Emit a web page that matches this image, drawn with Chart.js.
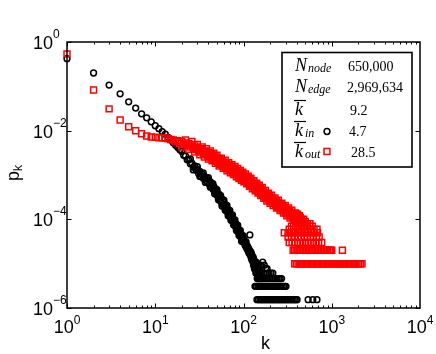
<!DOCTYPE html>
<html>
<head>
<meta charset="utf-8">
<script src="https://cdn.jsdelivr.net/npm/chart.js@4.4.0/dist/chart.umd.min.js"></script>
<style>
  html, body { margin: 0; padding: 0; background: #fff; }
  canvas { display: block; }
</style>
</head>
<body>
<canvas id="chart" width="436" height="354"></canvas>
<script>
// in-degree distribution (black circles)
const inK = [1,2,3,4,5,6,7,8,9,10,11,12,13,14,15,16,17,18,19,20,
  21,22,23,24,25,26,27,28,29,30,31,32,33,34,35,36,37,38,39,40,
  41,42,43,44,45,46,47,48,49,50,51,52,53,54,55,56,57,58,59,60,
  61,62,63,64,65,66,67,68,69,70,72,73,74,75,76,77,78,79,80,81,
  82,84,85,86,88,89,90,92,93,94,96,97,98,100];
const inP = [0.42,0.20,0.107,0.0676,0.0447,0.0324,0.0240,0.0195,0.0158,0.0129,
  0.0111,0.00955,0.00832,0.00708,0.00617,0.00537,0.00468,0.00417,0.00372,3.4e-3,
  2.8e-3,2.7e-3,2.2e-3,2.2e-3,1.8e-3,1.85e-3,1.5e-3,1.6e-3,1.3e-3,1.35e-3,
  1.08e-3,1.2e-3,9.5e-4,1.05e-3,8.5e-4,9.4e-4,7.6e-4,8.6e-4,6.9e-4,7.8e-4,
  6.2e-4,7.1e-4,5.5e-4,6.2e-4,4.8e-4,5.5e-4,4.3e-4,4.9e-4,3.7e-4,4.2e-4,
  3.3e-4,3.8e-4,2.9e-4,3.3e-4,2.55e-4,3.0e-4,2.3e-4,2.65e-4,2.1e-4,2.4e-4,
  1.9e-4,2.15e-4,1.7e-4,1.9e-4,1.52e-4,1.72e-4,1.36e-4,1.55e-4,1.24e-4,1.4e-4,
  1.08e-4,1.22e-4,9.8e-5,1.1e-4,9.0e-5,1.0e-4,8.0e-5,9.0e-5,7.3e-5,8.3e-5,
  6.6e-5,7.3e-5,5.8e-5,6.6e-5,5.0e-5,5.8e-5,4.6e-5,5.1e-5,4.0e-5,4.6e-5,
  3.5e-5,4.1e-5,3.2e-5,3.6e-5];
// outer edges of the black band
const inSpreadK = [25,27,30,32,35,37,40,42,45,47,50,52,55,57,60,62,65,67,70,72,
  75,77,80,83,86,89,92,95,99];
const inSpreadP = [2.3e-3,1.3e-3,1.55e-3,9.2e-4,1.12e-3,6.8e-4,8.7e-4,5.3e-4,6.4e-4,3.8e-4,
  4.7e-4,2.75e-4,3.45e-4,2.0e-4,2.7e-4,1.6e-4,2.05e-4,1.2e-4,1.6e-4,9.5e-5,
  1.26e-4,7.5e-5,9.7e-5,5.6e-5,7.4e-5,4.3e-5,5.6e-5,3.2e-5,4.3e-5];
const inTailK = [101,102,103,104,105,106,107,108,109,110,111,112,113,114,115,116,117,118,119,120,
  121,122,123,124,125,126,127,128,129,130,131,132,133,134,135,136,137,138,139,140,
  141,142,143,144,145,146,147,148,150,151,152,154,155,157,158,160,162,165,168,171,
  172,175,178,182,185,186,190,195,200,205,210,215,220,230,240,250,260,270];
const inTailP = [3.38e-5,2.92e-5,3.23e-5,2.62e-5,2.92e-5,2.46e-5,3.08e-5,2.31e-5,2.62e-5,2.15e-5,
  2.46e-5,2.0e-5,2.31e-5,1.85e-5,2.15e-5,1.69e-5,2.0e-5,4.46e-5,1.85e-5,1.54e-5,
  1.85e-5,1.38e-5,1.69e-5,1.23e-5,1.54e-5,1.23e-5,1.38e-5,1.08e-5,1.38e-5,9.23e-6,
  1.23e-5,1.08e-5,7.69e-6,1.08e-5,9.23e-6,7.69e-6,9.23e-6,6.15e-6,1.08e-5,7.69e-6,
  6.15e-6,9.23e-6,4.62e-6,7.69e-6,6.15e-6,4.62e-6,7.69e-6,6.15e-6,4.62e-6,7.69e-6,
  6.15e-6,4.62e-6,6.15e-6,9.23e-6,4.62e-6,6.15e-6,4.62e-6,1.08e-5,4.62e-6,6.15e-6,
  9.23e-6,4.62e-6,7.69e-6,4.62e-6,7.69e-6,6.15e-6,4.62e-6,6.15e-6,4.62e-6,6.15e-6,
  4.62e-6,6.15e-6,4.62e-6,4.62e-6,4.62e-6,4.62e-6,4.62e-6,4.62e-6];
// lowest levels: one row of points per level
const inRowLevels = [3.08e-6, 1.54e-6];
const inRowK = [
  [135,140,146,152,158,164,171,178,185,192,200,208,216,225,234,243,253,263,274,285,296,303],
  [142,148,154,160,166,173,180,187,195,203,211,219,228,237,247,257,267,278,289,300,312,325,338,352,366,380,395,405,540,610,680]
];

// out-degree distribution (red squares)
const outK = [1,2,3,4,5,6,7,8,9,10,11,12,13,14,15,16,17,18,19,20,
  21,22,23,24,25,26,27,28,29,30,31,32,33,34,35,36,37,38,39,40,
  41,42,43,44,45,46,47,48,49,50,51,52,53,54,55,56,57,58,59,60,
  61,62,63,64,65,66,67,68,69,70,72,73,75,76,78,79,81,82,84,85,
  87,88,90,91,93,94,96,97,99,100,102,104,106,108,110,112,114,116,118,120,
  122,125,127,130,132,135,137,140,142,145,148,150,153,156,159,162,165,168,172,175,
  179,182,186,190,194,198,202,206,210,215,220,225,230,235,240,245,250,256,262,268,
  274,280,286,293,300,306,313,320,328,335,343,350,358,366,375,383];
const outP = [0.54,0.083,0.031,0.0174,0.0123,0.0100,0.0085,0.0076,0.0072,0.0071,
  0.0069,0.0069,0.0068,0.0066,0.0063,6.2e-3,5.6e-3,5.9e-3,5.2e-3,5.7e-3,
  4.9e-3,5.3e-3,4.6e-3,5.1e-3,4.3e-3,4.8e-3,4.0e-3,4.5e-3,3.75e-3,4.2e-3,
  3.5e-3,3.9e-3,3.3e-3,3.7e-3,3.05e-3,3.5e-3,2.9e-3,3.35e-3,2.75e-3,3.2e-3,
  2.6e-3,3.05e-3,2.45e-3,2.9e-3,2.3e-3,2.7e-3,2.2e-3,2.55e-3,2.05e-3,2.45e-3,
  1.95e-3,2.35e-3,1.85e-3,2.2e-3,1.75e-3,2.1e-3,1.68e-3,2.02e-3,1.62e-3,1.95e-3,
  1.56e-3,1.88e-3,1.5e-3,1.8e-3,1.42e-3,1.72e-3,1.38e-3,1.66e-3,1.33e-3,1.6e-3,
  1.28e-3,1.52e-3,1.2e-3,1.44e-3,1.13e-3,1.36e-3,1.08e-3,1.3e-3,1.02e-3,1.24e-3,
  9.7e-4,1.18e-3,9.3e-4,1.13e-3,8.9e-4,1.08e-3,8.5e-4,1.03e-3,8.1e-4,9.8e-4,
  7.8e-4,9.3e-4,7.3e-4,8.8e-4,7.0e-4,8.4e-4,6.6e-4,8.0e-4,6.2e-4,7.5e-4,
  5.9e-4,7.0e-4,5.5e-4,6.5e-4,5.2e-4,6.2e-4,4.9e-4,5.8e-4,4.6e-4,5.4e-4,
  4.3e-4,5.2e-4,4.05e-4,4.9e-4,3.8e-4,4.6e-4,3.6e-4,4.3e-4,3.35e-4,4.0e-4,
  3.15e-4,3.8e-4,2.95e-4,3.5e-4,2.75e-4,3.3e-4,2.6e-4,3.1e-4,2.45e-4,2.9e-4,
  2.3e-4,2.7e-4,2.1e-4,2.55e-4,1.98e-4,2.4e-4,1.88e-4,2.25e-4,1.75e-4,2.1e-4,
  1.65e-4,1.98e-4,1.55e-4,1.84e-4,1.43e-4,1.72e-4,1.35e-4,1.62e-4,1.27e-4,1.5e-4,
  1.2e-4,1.42e-4,1.13e-4,1.34e-4,1.06e-4,1.3e-4];
// outer edges of the red band
const outSpreadK = [20,22,24,26,28,30,32,34,36,38,40,42,44,46,48,50,53,56,59,62,
  65,68,71,74,77,80,83,86,89,92,95,98,101,105,109,113,117,121,126,131,
  136,141,146,151,157,163,170,177,184,192,200,208,217,227,237,248,260,272,284,297,
  310,324,338,353,370,390,410,430];
const outSpreadP = [4.3e-3,6.2e-3,3.8e-3,5.7e-3,3.3e-3,4.9e-3,2.85e-3,4.3e-3,2.55e-3,3.9e-3,
  2.3e-3,3.5e-3,2.08e-3,3.1e-3,1.85e-3,2.8e-3,1.6e-3,2.4e-3,1.42e-3,2.15e-3,
  1.25e-3,1.9e-3,1.12e-3,1.7e-3,1.02e-3,1.55e-3,9.1e-4,1.4e-3,8.3e-4,1.26e-3,
  7.6e-4,1.15e-3,7.0e-4,1.05e-3,6.3e-4,9.4e-4,5.6e-4,8.5e-4,4.9e-4,7.4e-4,
  4.4e-4,6.5e-4,3.9e-4,5.9e-4,3.45e-4,5.2e-4,3.0e-4,4.5e-4,2.6e-4,3.9e-4,
  2.3e-4,3.5e-4,2.05e-4,3.05e-4,1.8e-4,2.7e-4,1.58e-4,2.3e-4,1.38e-4,2.05e-4,
  1.2e-4,1.8e-4,1.07e-4,1.6e-4,9.5e-5,1.4e-4,1.3e-4,1.2e-4];
const outRowLevels = [1.2e-4,1.1e-4,1.0e-4,9e-5,8e-5,7e-5,6e-5,5e-5,4e-5,3e-5,2e-5,1e-5];
const outRowK = [
  [392,420],
  [400,415,440],
  [380,405,430,455,480],
  [390,420,445,470,500],
  [370,410,440,465,495,530,565],
  [350,390,425,460,490,520,560,600],
  [330,370,410,450,490,530,580,630,680],
  [290,320,350,385,420,455,495,535,580,630,690],
  [320,350,380,415,450,490,530,575,620,670,720],
  [330,355,380,410,440,470,505,540,580,620,665,710,770],
  [365,380,395,411,427,444,462,480,500,520,541,562,585,608,632,658,684,711,740,770,800,832,865,900,936,970,1000,1320],
  [380,397,415,434,453,474,495,517,540,565,590,617,645,674,704,736,769,803,840,877,917,958,1000,1046,1093,1142,1193,1247,1303,1362,1423,1487,1554,1624,1697,1773,1853,1936,2023,2110,2200]
];

// axis decades
const xTickExp = [0, 1, 2, 3, 4];
const yTickExp = [0, -2, -4, -6];

// statistics box
const statSym = ['N', 'N', 'k', 'k', 'k'];
const statSub = ['node', 'edge', '', 'in', 'out'];
const statBar = [false, false, true, true, true];
const statVal = ['650,000', '2,969,634', '9.2', '4.7', '28.5'];

function pts(ks, ps) { return ks.map((k, i) => ({ x: k, y: ps[i] })); }
function rows(levels, lists) {
  const out = [];
  lists.forEach((ks, j) => ks.forEach(k => out.push({ x: k, y: levels[j] })));
  return out;
}

const SANS = '"Liberation Sans", Arial, sans-serif';
const SERIF = '"Liberation Serif", "Times New Roman", serif';

const deco = {
  id: 'deco',
  afterDraw(chart) {
    const ctx = chart.ctx, a = chart.chartArea;
    const xs = chart.scales.x, ys = chart.scales.y;
    ctx.save();
    ctx.strokeStyle = '#000';
    ctx.fillStyle = '#000';

    // box
    ctx.lineWidth = 1.5;
    ctx.strokeRect(a.left, a.top, a.right - a.left, a.bottom - a.top);

    // ticks, inside the box
    ctx.lineWidth = 1;
    ctx.beginPath();
    for (let e = 0; e < 4; e++) {
      for (let m = 1; m < 10; m++) {
        const px = Math.round(xs.getPixelForValue(m * Math.pow(10, e))) + 0.5;
        const len = m === 1 ? 4.5 : 2.5;
        ctx.moveTo(px, a.bottom); ctx.lineTo(px, a.bottom - len);
        ctx.moveTo(px, a.top); ctx.lineTo(px, a.top + len);
      }
    }
    yTickExp.forEach(e => {
      const py = Math.round(ys.getPixelForValue(Math.pow(10, e))) + 0.5;
      ctx.moveTo(a.left, py); ctx.lineTo(a.left + 4.5, py);
      ctx.moveTo(a.right, py); ctx.lineTo(a.right - 4.5, py);
    });
    ctx.stroke();

    // tick labels 10^e
    const expStr = e => (e < 0 ? '\u2212' + (-e) : String(e));
    ctx.textBaseline = 'alphabetic';
    xTickExp.forEach(e => {
      const px = xs.getPixelForValue(Math.pow(10, e));
      ctx.font = '18px ' + SANS;
      const w1 = ctx.measureText('10').width;
      ctx.font = '12px ' + SANS;
      const w2 = ctx.measureText(expStr(e)).width;
      const left = px - (w1 + w2) / 2;
      ctx.textAlign = 'left';
      ctx.font = '18px ' + SANS;
      ctx.fillText('10', left, a.bottom + 25);
      ctx.font = '12px ' + SANS;
      ctx.fillText(expStr(e), left + w1, a.bottom + 16);
    });
    yTickExp.forEach(e => {
      const py = ys.getPixelForValue(Math.pow(10, e));
      ctx.textAlign = 'right';
      ctx.font = '18px ' + SANS;
      ctx.fillText('10', 53, py + 7);
      ctx.textAlign = 'left';
      ctx.font = '12px ' + SANS;
      ctx.fillText(expStr(e), 53, py - 4);
    });

    // axis titles
    ctx.textAlign = 'center';
    ctx.font = '18px ' + SANS;
    ctx.fillText('k', (a.left + a.right) / 2 + 22, 349);
    ctx.save();
    ctx.translate(19, 173);
    ctx.rotate(-Math.PI / 2);
    ctx.font = '18px ' + SANS;
    const wp = ctx.measureText('p').width;
    ctx.font = '12px ' + SANS;
    const wk = ctx.measureText('k').width;
    ctx.textAlign = 'left';
    ctx.font = '18px ' + SANS;
    ctx.fillText('p', -(wp + wk) / 2, 0);
    ctx.font = '12px ' + SANS;
    ctx.fillText('k', -(wp + wk) / 2 + wp, 3);
    ctx.restore();

    // statistics box
    ctx.fillStyle = '#fff';
    ctx.fillRect(282, 52.5, 130, 114.5);
    ctx.lineWidth = 1.6;
    ctx.strokeRect(282, 52.5, 130, 114.5);
    ctx.fillStyle = '#000';
    const rowY = [71, 92, 115, 136, 157];
    const valX = [348, 347, 350, 349, 351];
    ctx.textAlign = 'left';
    statSym.forEach((s, i) => {
      ctx.font = 'italic 18px ' + SERIF;
      ctx.fillText(s, 295, rowY[i]);
      const ws = ctx.measureText(s).width;
      if (statSub[i]) {
        ctx.font = 'italic 12px ' + SERIF;
        ctx.fillText(statSub[i], 295 + ws + (s === 'N' ? 1 : 2), rowY[i] + 1);
      }
      if (statBar[i]) {
        ctx.lineWidth = 1.2;
        ctx.beginPath();
        ctx.moveTo(294, rowY[i] - 14.5);
        ctx.lineTo(306, rowY[i] - 14.5);
        ctx.stroke();
      }
      ctx.font = '14px ' + SERIF;
      ctx.fillText(statVal[i], valX[i], rowY[i]);
    });
    // markers of the two series
    ctx.lineWidth = 1.5;
    ctx.strokeStyle = '#000';
    ctx.beginPath();
    ctx.arc(327, 131.5, 2.9, 0, Math.PI * 2);
    ctx.stroke();
    ctx.strokeStyle = '#ff0000';
    ctx.strokeRect(324, 148.5, 5.9, 5.9);
    ctx.restore();
  }
};

new Chart(document.getElementById('chart'), {
  type: 'scatter',
  data: {
    datasets: [
      {
        label: 'k_out',
        data: pts(outK, outP).concat(pts(outSpreadK, outSpreadP), rows(outRowLevels, outRowK)),
        pointStyle: 'rect',
        pointRadius: 4.2,
        borderWidth: 1.5,
        borderColor: '#ff0000',
        backgroundColor: 'rgba(0,0,0,0)',
        clip: false
      },
      {
        label: 'k_in',
        data: pts(inK, inP).concat(pts(inSpreadK, inSpreadP), pts(inTailK, inTailP), rows(inRowLevels, inRowK)),
        pointStyle: 'circle',
        pointRadius: 2.9,
        borderWidth: 1.5,
        borderColor: '#000000',
        backgroundColor: 'rgba(0,0,0,0)',
        clip: false
      }
    ]
  },
  options: {
    responsive: false,
    animation: false,
    events: [],
    layout: { padding: { top: 42, right: 16, left: 0, bottom: 0 } },
    plugins: { legend: { display: false }, tooltip: { enabled: false } },
    scales: {
      x: {
        type: 'logarithmic', min: 1, max: 10000,
        grid: { display: false }, border: { display: false },
        ticks: { display: false },
        afterFit: s => { s.height = 46; }
      },
      y: {
        type: 'logarithmic', min: 1e-6, max: 1,
        grid: { display: false }, border: { display: false },
        ticks: { display: false },
        afterFit: s => { s.width = 67; }
      }
    }
  },
  plugins: [deco]
});
</script>
</body>
</html>
